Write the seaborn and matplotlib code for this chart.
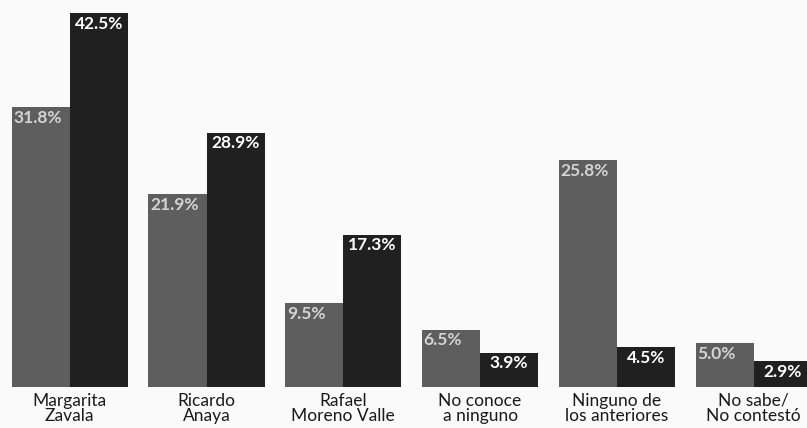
import pandas as pd
import matplotlib.pyplot as plt
import seaborn as sns

sns.set_theme(style="white")
plt.rcParams['font.family'] = ['Lato', 'DejaVu Sans']

# Datos
categorias = ['Margarita\nZavala', 'Ricardo\nAnaya', 'Rafael\nMoreno Valle',
              'No conoce\na ninguno', 'Ninguno de\nlos anteriores', 'No sabe/\nNo contestó']
serie_1 = [31.8, 21.9, 9.5, 6.5, 25.8, 5.0]
serie_2 = [42.5, 28.9, 17.3, 3.9, 4.5, 2.9]
series = ['Serie 1', 'Serie 2']

df = pd.DataFrame({
    'Categoria': categorias * 2,
    'Valor': serie_1 + serie_2,
    'Serie': [series[0]] * len(categorias) + [series[1]] * len(categorias),
})

fondo = '#fafafa'
fig = plt.figure(figsize=(8.07, 4.28), dpi=100, facecolor=fondo)
ax = fig.add_axes([0, 41 / 428, 1, 387 / 428])
ax.set_facecolor(fondo)

sns.barplot(data=df, x='Categoria', y='Valor', hue='Serie', order=categorias,
            palette=['#5e5e5e', '#202020'], width=0.85, gap=0, linewidth=0,
            saturation=1, legend=False, ax=ax)

ax.set_xlim(-0.51, 5.39)
ax.set_ylim(0, 44)
ax.set_xlabel('')
ax.set_ylabel('')
ax.set_yticks([])
sns.despine(ax=ax, left=True, bottom=True)
ax.tick_params(axis='x', length=0, pad=4, labelsize=12.5, colors='#1a1a1a')
for lbl in ax.get_xticklabels():
    lbl.set_linespacing(0.95)

# Etiquetas de porcentaje
for i, cont in enumerate(ax.containers):
    for bar in cont:
        h = bar.get_height()
        if i == 0:
            ax.text(bar.get_x() + 0.012, h - 0.3, f'{h:.1f}%', ha='left', va='top',
                    color='#d4d4d4', fontsize=12.5, fontweight='bold')
        else:
            ax.text(bar.get_x() + bar.get_width() / 2, h - 0.3, f'{h:.1f}%', ha='center',
                    va='top', color='white', fontsize=12.5, fontweight='bold')

fig.savefig('out.png', dpi=100, facecolor=fondo)
